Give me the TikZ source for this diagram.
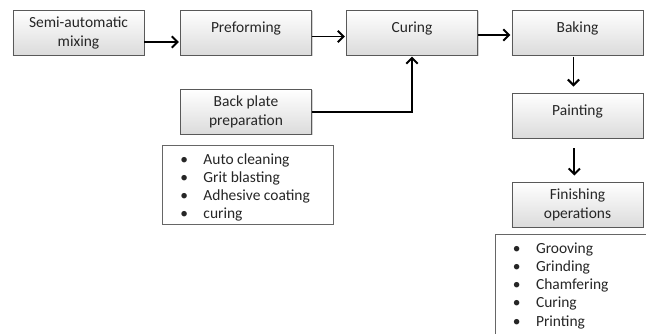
\documentclass[tikz,border=0pt]{standalone}
\usepackage{fontspec}
\setmainfont{Carlito}
\usetikzlibrary{arrows.meta,positioning,calc,shadows}

\begin{document}
\begin{tikzpicture}[x=0.025cm,y=-0.025cm,
  >={Straight Barb[length=4pt,width=8pt]},
  stage/.style={draw=black!65, top color=white, bottom color=black!14,
    minimum width=3.275cm, minimum height=1.125cm, align=center,
    font=\fontsize{11}{13.5}\selectfont, text=black!85, inner sep=1pt,
    drop shadow={shadow xshift=0.7pt,shadow yshift=-0.7pt,opacity=0.35}},
  oneline/.style={text height=8pt, text depth=8.4pt},
  flow/.style={->,line width=1.4pt,shorten >=1pt},
  itembox/.style={draw=black!60, fill=white, anchor=north west, inner sep=0pt},
  items/.style={anchor=north west, inner sep=0pt, text=black!85,
    font=\fontsize{11}{13}\selectfont}]
\useasboundingbox (0,0) rectangle (646,334);
\clip (0,0) rectangle (646,334);
% process boxes
\node[stage] (mix) at (78.5,32.5) {Semi-automatic\\mixing};
\node[stage,oneline] (pre) at (246,32.5) {Preforming};
\node[stage,oneline] (cure) at (412,32.5) {Curing};
\node[stage,oneline] (bake) at (577.5,32.5) {Baking};
\node[stage,oneline] (paint) at (577.5,115.5) {Painting};
\node[stage] (back) at (246,112) {Back plate\\preparation};
\node[stage] (finish) at (577.5,204.5) {Finishing\\operations};
% arrows
\draw[flow] (mix.east |- 0,42) -- (pre.west |- 0,42);
\draw[flow] (pre.east |- 0,36.5) -- (cure.west |- 0,36.5);
\draw[flow] (cure.east |- 0,35) -- (bake.west |- 0,35);
\draw[flow] (back.east) -| (cure.south);
\draw[flow] ([xshift=-0.1cm,yshift=-0.05cm]bake.south) -- ([xshift=-0.1cm,yshift=0.12cm]paint.north);
\draw[flow] ([xshift=-0.08cm,yshift=-0.25cm]paint.south) -- ([xshift=-0.08cm,yshift=0.12cm]finish.north);
% sub-step lists
\node[itembox, minimum width=4.275cm, minimum height=1.975cm] (prepbox) at (162,145) {};
\node[items] (preplist) at ([xshift=0.45cm,yshift=-0.15cm]prepbox.north west)
  {\begin{tabular}{@{}l@{\hspace{11pt}}l@{}}
   \textbullet & Auto cleaning\\
   \textbullet & Grit blasting\\
   \textbullet & Adhesive coating\\
   \textbullet & curing
   \end{tabular}};
\node[itembox, minimum width=4.5cm, minimum height=3cm] (finbox) at (495,234) {};
\node[items] (finlist) at ([xshift=0.44cm,yshift=-0.15cm]finbox.north west)
  {\begin{tabular}{@{}l@{\hspace{11pt}}l@{}}
   \textbullet & Grooving\\
   \textbullet & Grinding\\
   \textbullet & Chamfering\\
   \textbullet & Curing\\
   \textbullet & Printing
   \end{tabular}};
\end{tikzpicture}
\end{document}
